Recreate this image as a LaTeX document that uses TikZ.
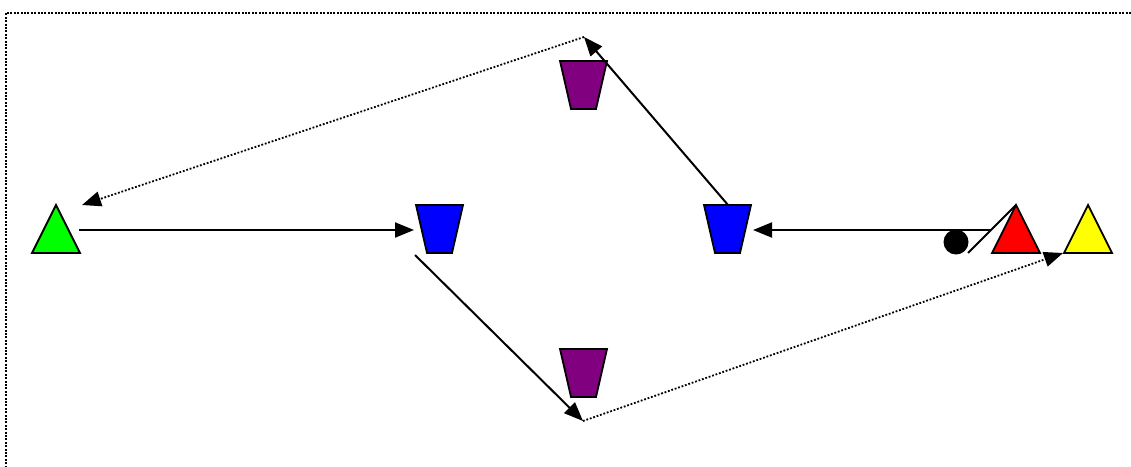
\documentclass[tikz,border=0pt]{standalone}
\usetikzlibrary{arrows.meta}
\definecolor{cupblue}{RGB}{0,0,255}
\definecolor{cuppurple}{RGB}{128,0,128}
\definecolor{trigreen}{RGB}{0,255,0}
\definecolor{trired}{RGB}{255,0,0}
\definecolor{triyellow}{RGB}{255,255,0}
\tikzset{
  shapeline/.style={draw=black, line width=1.8pt, line join=miter},
  flow/.style={line width=2pt, -{Triangle[length=19pt,width=15pt]}},
  dotflow/.style={line width=1.8pt, dash pattern=on 1.8pt off 1.8pt, -{Triangle[length=19pt,width=15pt]}},
  frame/.style={line width=2pt, dash pattern=on 2pt off 1.4pt},
  % triangle with apex at the current point, 48 wide and 48 high
  tri/.pic={\path[shapeline, fill=#1] (0,0) -- (24,48) -- (-24,48) -- cycle;},
  % cup: wide top edge starting at the current point
  cup/.pic={\path[shapeline, fill=#1] (0,0) -- (47,0) -- (36,48) -- (11,48) -- cycle;}
}
\begin{document}
\begin{tikzpicture}[x=1pt, y=-1pt]
\useasboundingbox (0,0) rectangle (1131,466);
% dotted frame, top and left edges
\draw[frame] (1131,13) -- (6,13) -- (6,466);

% shapes
\pic at (56,205) {tri=trigreen};
\pic at (416,205) {cup=cupblue};
\pic at (704,205) {cup=cupblue};
\pic at (560,61) {cup=cuppurple};
\pic at (560,349) {cup=cuppurple};
\pic at (1016,205) {tri=trired};
\pic at (1088,205) {tri=triyellow};
\fill[black] (956,242) circle (12.5);

% connection points
\coordinate (greenR) at (79,230);
\coordinate (greenTip) at (82,205);
\coordinate (blueAIn) at (414,230);
\coordinate (blueAOut) at (415,255);
\coordinate (lowBend) at (583,421);
\coordinate (yellowIn) at (1063,253);
\coordinate (blueBTop) at (728,205);
\coordinate (blueBIn) at (753,230);
\coordinate (topBend) at (584,37);
\coordinate (slashLow) at (968,253);
\coordinate (slashMid) at (991,230);
\coordinate (redApex) at (1016,205);

% connectors
\draw[flow] (greenR) -- (blueAIn);
\draw[flow] (blueAOut) -- (lowBend);
\draw[dotflow] (lowBend) -- (yellowIn);
\draw[flow] (blueBTop) -- (topBend);
\draw[dotflow] (topBend) -- (greenTip);
\draw[flow] (slashMid) -- (blueBIn);
\draw[line width=2pt] (slashLow) -- (redApex);
\end{tikzpicture}
\end{document}
